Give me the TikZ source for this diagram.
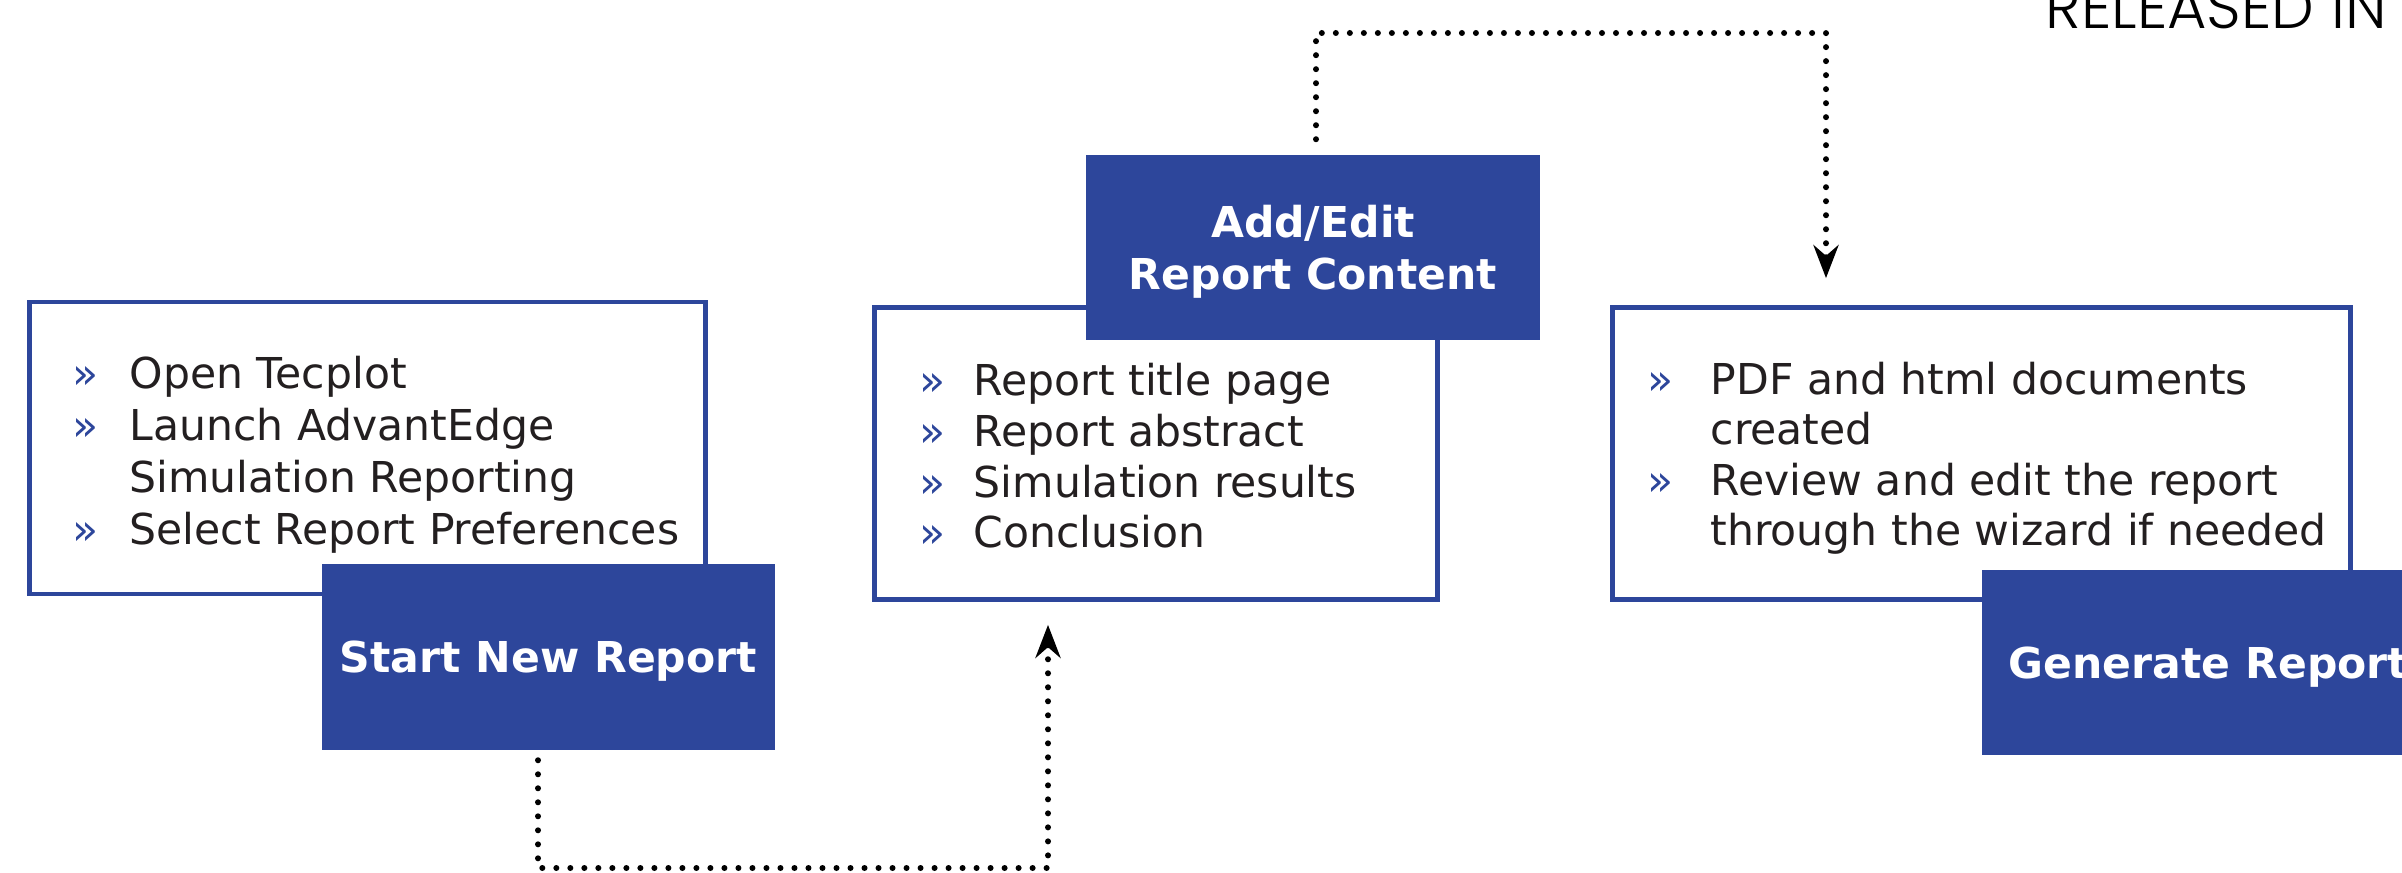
\documentclass[tikz,border=0pt]{standalone}
\usepackage{fontspec}
\setmainfont{DejaVu Sans}
\newfontfamily\relfont{Poppins Light}
\usetikzlibrary{arrows.meta,positioning}

\definecolor{repblue}{RGB}{45,70,155}
\definecolor{reptext}{RGB}{35,31,32}

\newcommand{\bul}{\textcolor{repblue}{»}}

\tikzset{
  listbox/.style={draw=repblue,line width=0.045cm,fill=white,inner sep=0pt,minimum height=2.92cm},
  titlebox/.style={fill=repblue,text=white,inner sep=0pt,align=center,text depth=0pt,
    minimum width=4.53cm,minimum height=1.85cm,font=\fontsize{12.1}{14.9}\selectfont\bfseries},
  items/.style={anchor=base west,inner sep=0pt,text=reptext,font=\fontsize{12.1}{14.8}\selectfont},
  flow/.style={line width=0.06cm,line cap=round,dash pattern=on 0pt off 0.14cm,
    -{Stealth[length=0.33cm,width=0.25cm]}},
}

\begin{document}
\begin{tikzpicture}[x=0.01cm,y=-0.01cm]
    \useasboundingbox (0,0) rectangle (2402,873);
    \clip (0,0) rectangle (2402,873);

    \node[anchor=base west,inner sep=0pt,font=\relfont\fontsize{17.2}{20}\selectfont] (rel) at (2045,29) {RELEASED IN V};

    % step 1
    \node[listbox,minimum width=6.76cm] (L) at (367.5,448) {};
    \node[titlebox] (S) at (548.5,657) {Start New Report};
    \node[items] (Ltxt) at (72,388) {\begin{tabular}[t]{@{}p{16.2pt}@{}l@{}}
      \bul & Open Tecplot\\
      \bul & Launch AdvantEdge\\
           & Simulation Reporting\\
      \bul & Select Report Preferences
    \end{tabular}};

    % step 2
    \node[listbox,minimum width=5.63cm] (M) at (1156,453.5) {};
    \node[titlebox] (A) at (1313,247.5) {Add/Edit\\Report Content};
    \node[items,font=\fontsize{12.1}{14.4}\selectfont] (Mtxt) at (919,396) {\begin{tabular}[t]{@{}p{15.4pt}@{}l@{}}
      \bul & Report title page\\
      \bul & Report abstract\\
      \bul & Simulation results\\
      \bul & Conclusion
    \end{tabular}};

    % step 3
    \node[listbox,minimum width=7.38cm] (R) at (1981.5,453.5) {};
    \node[titlebox] (G) at (2208.5,662.5) {Generate Report};
    \node[items,font=\fontsize{12.1}{14.4}\selectfont] (Rtxt) at (1647,394) {\begin{tabular}[t]{@{}p{17.9pt}@{}l@{}}
      \bul & PDF and html documents\\
           & created\\
      \bul & Review and edit the report\\
           & through the wizard if needed
    \end{tabular}};

    % connectors
    \coordinate (b1) at (538,868);
    \coordinate (b2) at (1048,868);
    \coordinate (t1) at (1316,33);
    \coordinate (t2) at (1826,33);
    \draw[flow] ([yshift=-0.1cm]S.south -| b1) -- (b1) -- (b2) -- ([yshift=-0.23cm]M.south -| b2);
    \draw[flow] ([yshift=0.15cm]A.north -| t1) -- (t1) -- (t2) -- ([yshift=0.27cm]R.north -| t2);
\end{tikzpicture}
\end{document}
